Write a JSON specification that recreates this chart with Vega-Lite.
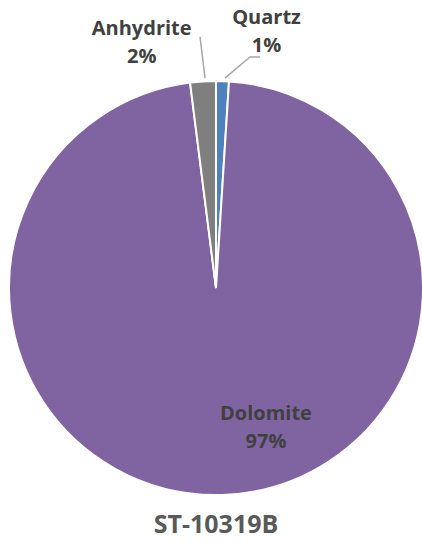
{
  "$schema": "https://vega.github.io/schema/vega-lite/v6.json",
  "autosize": {"type": "none"},
  "width": 412,
  "height": 500,
  "padding": {"left": 10, "top": 38, "right": 0, "bottom": 4},
  "background": "white",
  "config": {"view": {"stroke": null}, "font": "Open Sans"},
  "title": {
    "text": "ST-10319B",
    "orient": "bottom",
    "offset": -55,
    "font": "Open Sans",
    "fontSize": 25,
    "fontWeight": "bold",
    "color": "#595959"
  },
  "data": {
    "values": [
      {"mineral": "Quartz", "value": 1, "label": "Quartz\n1%"},
      {"mineral": "Dolomite", "value": 97, "label": "Dolomite\n97%"},
      {"mineral": "Anhydrite", "value": 2, "label": "Anhydrite\n2%"}
    ]
  },
  "layer": [
    {
      "mark": {"type": "arc", "outerRadius": 207, "stroke": "white", "strokeWidth": 2},
      "encoding": {
        "theta": {"field": "value", "type": "quantitative", "stack": true},
        "order": {"field": "mineral", "sort": "descending"},
        "color": {
          "field": "mineral",
          "type": "nominal",
          "scale": {"domain": ["Quartz", "Dolomite", "Anhydrite"], "range": ["#4F81BD", "#8064A2", "#7F7F7F"]},
          "legend": null
        }
      }
    },
    {
      "mark": {"type": "text", "radius": 270, "dx": 42, "align": "center", "baseline": "middle", "lineBreak": "\n", "lineHeight": 28, "fontSize": 20, "fontWeight": "bold", "color": "#404040"},
      "encoding": {
        "theta": {"field": "value", "type": "quantitative", "stack": true},
        "order": {"field": "mineral", "sort": "descending"},
        "text": {"condition": {"test": "datum.mineral === 'Quartz'", "field": "label"}, "value": ""}
      }
    },
    {
      "mark": {"type": "text", "radius": 260, "dx": -58, "align": "center", "baseline": "middle", "lineBreak": "\n", "lineHeight": 28, "fontSize": 20, "fontWeight": "bold", "color": "#404040"},
      "encoding": {
        "theta": {"field": "value", "type": "quantitative", "stack": true},
        "order": {"field": "mineral", "sort": "descending"},
        "text": {"condition": {"test": "datum.mineral === 'Anhydrite'", "field": "label"}, "value": ""}
      }
    },
    {
      "mark": {"type": "text", "radius": 126, "dx": 46, "align": "center", "baseline": "middle", "lineBreak": "\n", "lineHeight": 28, "fontSize": 20, "fontWeight": "bold", "color": "#404040"},
      "encoding": {
        "theta": {"field": "value", "type": "quantitative", "stack": true},
        "order": {"field": "mineral", "sort": "descending"},
        "text": {"condition": {"test": "datum.mineral === 'Dolomite'", "field": "label"}, "value": ""}
      }
    },
    {
      "data": {"values": [{"x": -0.053, "y": 1.014, "x2": -0.077, "y2": 1.213}, {"x": 0.043, "y": 1.014, "x2": 0.164, "y2": 1.116}, {"x": 0.164, "y": 1.116, "x2": 0.213, "y2": 1.116}]},
      "mark": {"type": "rule", "color": "#A6A6A6", "strokeWidth": 1.5},
      "encoding": {
        "x": {"field": "x", "type": "quantitative", "scale": {"domain": [-0.9952, 0.9952], "nice": false, "zero": false}, "axis": null},
        "y": {"field": "y", "type": "quantitative", "scale": {"domain": [-1.2077, 1.2077], "nice": false, "zero": false}, "axis": null},
        "x2": {"field": "x2"},
        "y2": {"field": "y2"}
      }
    }
  ]
}
